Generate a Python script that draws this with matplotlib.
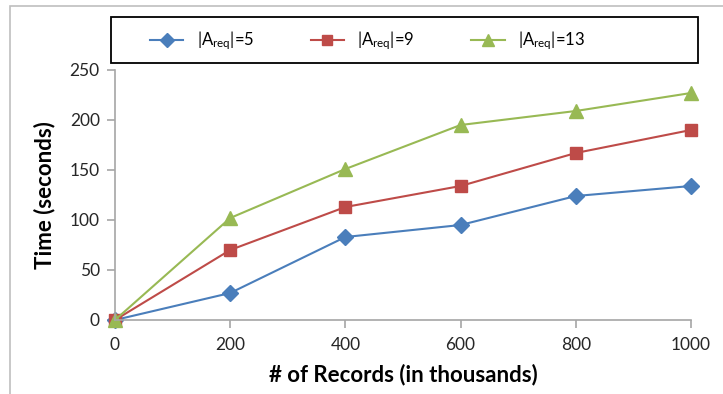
import numpy as np
import matplotlib.pyplot as plt
from matplotlib.patches import Rectangle

plt.rcParams['font.family'] = ['Lato', 'DejaVu Sans']
plt.rcParams['mathtext.fontset'] = 'custom'
plt.rcParams['mathtext.rm'] = 'Lato'
plt.rcParams['mathtext.it'] = 'Lato:italic'

# data
records = [0, 200, 400, 600, 800, 1000]
t_a5 = [0, 27, 83, 95, 124, 134]
t_a9 = [0, 70, 113, 134, 167, 190]
t_a13 = [0, 102, 151, 195, 209, 227]
labels = [r'|A$_{\mathrm{req}}$|=5', r'|A$_{\mathrm{req}}$|=9', r'|A$_{\mathrm{req}}$|=13']

fig = plt.figure(figsize=(7.23, 3.94), dpi=100)
ax = fig.add_axes([115/723, 1 - 320/394, (691 - 115)/723, 250/394])

# outer chart frame
fig.patches.append(Rectangle((10/723, -0.1), 1.0, 1.1 - 6/394, transform=fig.transFigure,
                             fill=False, edgecolor='#bfbfbf', lw=1.2))
# legend box
fig.patches.append(Rectangle((111/723, 1 - 63/394), (698 - 111)/723, 46/394,
                             transform=fig.transFigure, fill=False, edgecolor='black', lw=1.3))

ax.plot(records, t_a5, color='#4a7ebb', marker='D', ms=8, lw=1.5, label=labels[0])
ax.plot(records, t_a9, color='#be4b48', marker='s', ms=9, lw=1.5, label=labels[1])
ax.plot(records, t_a13, color='#98b954', marker='^', ms=10, lw=1.5, label=labels[2])

ax.set_xlim(0, 1000)
ax.set_ylim(0, 250)
ax.set_xticks(records)
ax.set_yticks([0, 50, 100, 150, 200, 250])
for s in ['top', 'right']:
    ax.spines[s].set_visible(False)
for s in ['left', 'bottom']:
    ax.spines[s].set_color('#a6a6a6')
    ax.spines[s].set_linewidth(1.2)
ax.tick_params(colors='#a6a6a6', labelcolor='#262626', labelsize=12.5, length=6, width=1.2)
ax.tick_params(axis='x', pad=6)
ax.tick_params(axis='y', pad=5)
for m in ax.lines:
    m.set_clip_on(False)

ax.set_xlabel('# of Records (in thousands)', fontsize=16, fontweight='bold', labelpad=8)
ax.set_ylabel('Time (seconds)', fontsize=16, fontweight='bold', labelpad=10)

leg = fig.legend(loc='center left', bbox_to_anchor=(150/723, 1 - 41/394),
                 ncol=3, frameon=False, fontsize=12, markerscale=0.85,
                 handlelength=2.0, handletextpad=0.8, columnspacing=3.4,
                 borderpad=0, borderaxespad=0)

fig.savefig('out.png', dpi=100)
